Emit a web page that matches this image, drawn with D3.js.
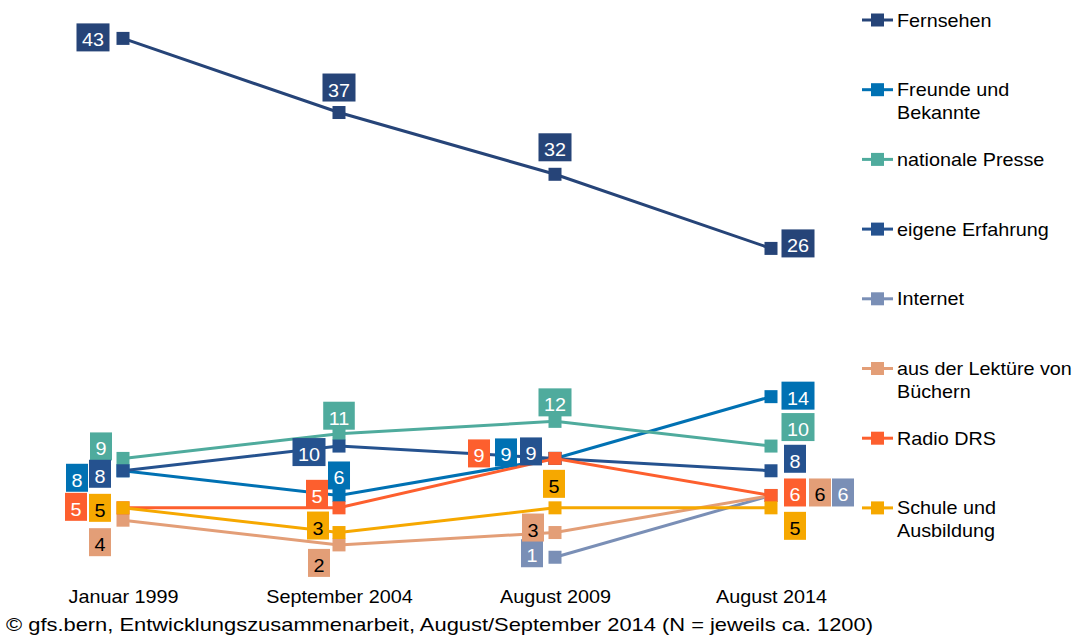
<!DOCTYPE html>
<html>
<head>
<meta charset="utf-8">
<script src="https://cdn.jsdelivr.net/npm/d3@7"></script>
<style>
  html, body { margin: 0; padding: 0; background: #fff; }
  svg { display: block; font-family: "Liberation Sans", Arial, sans-serif; }
</style>
</head>
<body>
<svg id="chart" width="1078" height="635"></svg>
<script>
// Survey waves
const periods = ["Januar 1999", "September 2004", "August 2009", "August 2014"];

// Series names (legend order)
const seriesNames = [
  "Fernsehen",
  "Freunde und|Bekannte",
  "nationale Presse",
  "eigene Erfahrung",
  "Internet",
  "aus der Lektüre von|Büchern",
  "Radio DRS",
  "Schule und|Ausbildung"
];

// Shares in % per wave (null = not asked)
const fernsehen = [43, 37, 32, 26];
const freunde   = [8, 6, 9, 14];
const presse    = [9, 11, 12, 10];
const eigene    = [8, 10, 9, 8];
const internet  = [null, null, 1, 6];
const lektuere  = [4, 2, 3, 6];
const radio     = [5, 5, 9, 6];
const schule    = [5, 3, 5, 5];

const footer = "© gfs.bern, Entwicklungszusammenarbeit, August/September 2014 (N = jeweils ca. 1200)";

// Styling
const colors = ["#264478", "#0071b3", "#4fab9d", "#25528f", "#7a8fb6", "#e39e77", "#fd5f2e", "#f6a800"];
const labelTextColors = ["#fff", "#fff", "#fff", "#fff", "#fff", "#000", "#fff", "#000"];

// Value label box offsets (px, relative to the point) so labels don't overlap
const labelOffsets = [
  [[-30, -1], [0, -25], [0, -27], [27, -5]],
  [[-46, 7], [0, -20], [-49, -6], [27, -1]],
  [[-22, -12], [0, -18], [0, -19], [27, -19]],
  [[-23, 3], [-30, 6], [-24, -7], [24, -12]],
  [null, null, [-23, -4], [72, -3]],
  [[-23, 22], [-20, 18], [-22, -5], [49, -3]],
  [[-47, -1], [-22, -14], [-76, -5], [24, -3]],
  [[-23, 0], [-21, -7], [-1, -24], [24, 18]]
];

const seriesValues = [fernsehen, freunde, presse, eigene, internet, lektuere, radio, schule];
const series = seriesNames.map((name, i) => ({
  name, color: colors[i], textColor: labelTextColors[i],
  points: seriesValues[i].map((v, j) => ({ period: periods[j], value: v, off: labelOffsets[i][j] }))
}));

const svg = d3.select("#chart");
const FONT = 18, SX = 1.1;

const x = d3.scalePoint().domain(periods).range([123, 771]);
const y = d3.scaleLinear().domain([0, 43]).range([569.6, 38.4]);

// Category labels along the bottom
const xAxis = svg.append("g")
  .attr("transform", "translate(0,603)")
  .call(d3.axisBottom(x).tickSize(0).tickPadding(0));
xAxis.select(".domain").remove();
xAxis.selectAll(".tick text")
  .attr("x", 0).attr("y", 0).attr("dy", 0)
  .attr("transform", "scale(" + SX + ",1)")
  .attr("text-anchor", "middle")
  .style("font-size", FONT + "px")
  .style("font-family", "Liberation Sans, Arial, sans-serif")
  .attr("fill", "#000");

// Lines and markers
const line = d3.line()
  .defined(d => d.value != null)
  .x(d => x(d.period))
  .y(d => y(d.value));

const gSeries = svg.append("g");
series.forEach(s => {
  const g = gSeries.append("g");
  g.append("path")
    .datum(s.points)
    .attr("d", line)
    .attr("fill", "none")
    .attr("stroke", s.color)
    .attr("stroke-width", 3);
  g.selectAll("rect")
    .data(s.points.filter(p => p.value != null))
    .join("rect")
    .attr("x", d => x(d.period) - 6.5)
    .attr("y", d => y(d.value) - 6.5)
    .attr("width", 13)
    .attr("height", 13)
    .attr("fill", s.color);
});

// Value labels in coloured boxes
const gLabels = svg.append("g");
series.forEach(s => {
  s.points.filter(p => p.value != null).forEach(p => {
    const cx = x(p.period) + p.off[0];
    const cy = y(p.value) + p.off[1];
    const g = gLabels.append("g").attr("transform", "translate(" + cx + "," + cy + ")");
    const rect = g.append("rect").attr("fill", s.color);
    const t = g.append("text")
      .attr("text-anchor", "middle")
      .attr("transform", "scale(" + SX + ",1)")
      .attr("y", 9)
      .attr("fill", s.textColor)
      .style("font-size", FONT + "px")
      .text(d3.format("d")(p.value));
    const w = t.node().getComputedTextLength() * SX + 11;
    rect.attr("x", -w / 2).attr("y", -14).attr("width", w).attr("height", 28);
  });
});

// Legend
const legend = svg.append("g");
series.forEach((s, i) => {
  const cy = 20 + i * 69.7;
  const g = legend.append("g").attr("transform", "translate(0," + cy + ")");
  g.append("line").attr("x1", 862).attr("x2", 893).attr("y1", 0).attr("y2", 0)
    .attr("stroke", s.color).attr("stroke-width", 3);
  g.append("rect").attr("x", 871).attr("y", -6.5).attr("width", 13).attr("height", 13)
    .attr("fill", s.color);
  const t = g.append("text")
    .attr("transform", "translate(897,0) scale(" + SX + ",1)")
    .style("font-size", FONT + "px")
    .attr("fill", "#000");
  s.name.split("|").forEach((part, k) => {
    t.append("tspan").attr("x", 0).attr("y", 6.5 + k * 23).text(part);
  });
});

// Source note
svg.append("text")
  .attr("x", 6)
  .attr("y", 631)
  .attr("textLength", 867)
  .attr("lengthAdjust", "spacingAndGlyphs")
  .style("font-size", (FONT + 0.5) + "px")
  .attr("fill", "#000")
  .text(footer);
</script>
</body>
</html>
